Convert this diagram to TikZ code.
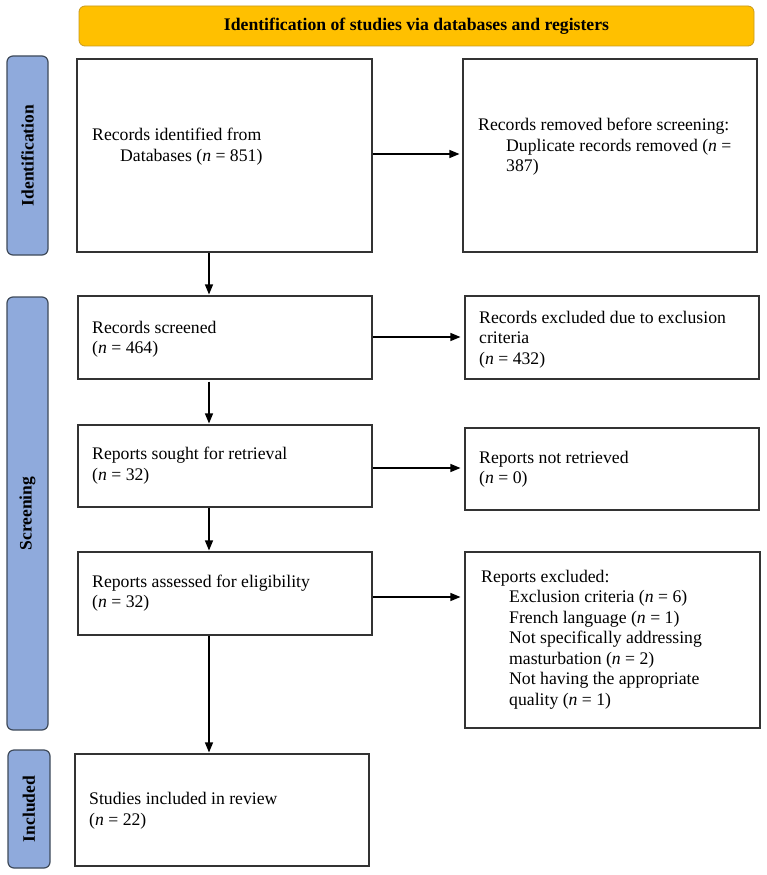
\documentclass[tikz,border=0pt]{standalone}
\usepackage{fontspec}
\setmainfont{Liberation Serif}
\usetikzlibrary{arrows.meta,calc}
\definecolor{hdr}{HTML}{FFC000}
\definecolor{hdrb}{HTML}{C99A1E}
\definecolor{side}{HTML}{8FAADC}
\definecolor{sideb}{HTML}{3F4A5A}
\definecolor{edge}{HTML}{333333}
\begin{document}
\begin{tikzpicture}[x=1pt,y=-1pt,
 box/.style={draw=edge, line width=1.1pt, fill=white, inner sep=0pt},
 sidelab/.style={draw=sideb, line width=1.2pt, fill=side, rounded corners=6pt, inner sep=0pt, font=\bfseries\fontsize{17.5}{20}\selectfont, rotate=90},
 header/.style={draw=hdrb, line width=0.8pt, fill=hdr, rounded corners=6pt, inner sep=0pt, font=\bfseries\fontsize{17.7}{20}\selectfont},
 txt/.style={anchor=west, align=left, inner sep=0pt, font=\fontsize{17.7}{20.5}\selectfont},
 arr/.style={draw=black, line width=1.2pt, -{Triangle[length=10pt,width=8pt]}}]
\useasboundingbox (0,0) rectangle (766,875);
\fill[white] (0,0) rectangle (766,875);

% header
\node[header, minimum width=675pt, minimum height=40pt] (hd) at (416.5,26) {Identification of studies via databases and registers};

% side labels
\node[sidelab, minimum width=199pt, minimum height=41pt] (L1) at (27.5,155.5) {Identification};
\node[sidelab, minimum width=433pt, minimum height=41pt] (L2) at (27.5,513.5) {Screening};
\node[sidelab, minimum width=118pt, minimum height=42pt] (L3) at (29,809) {Included};

% boxes
\node[box, minimum width=295pt, minimum height=193pt] (b1) at (224.5,155.5) {};
\node[box, minimum width=294pt, minimum height=193pt] (b2) at (610,155.5) {};
\node[box, minimum width=294pt, minimum height=83pt] (b3) at (225,337.5) {};
\node[box, minimum width=294pt, minimum height=83pt] (b4) at (612,337.5) {};
\node[box, minimum width=294pt, minimum height=82pt] (b5) at (225,466) {};
\node[box, minimum width=294pt, minimum height=82pt] (b6) at (612,469) {};
\node[box, minimum width=294pt, minimum height=83pt] (b7) at (225,593.5) {};
\node[box, minimum width=295pt, minimum height=176pt] (b8) at (612.5,640) {};
\node[box, minimum width=294pt, minimum height=112pt] (b9) at (222,810) {};

% texts
\node[txt] (t1) at (92,146.5) {Records identified from\\\hspace*{28pt}Databases (\textit{n} = 851)};
\node[txt] (t2) at (478,147) {Records removed before screening:\\\hspace*{28pt}Duplicate records removed (\textit{n} =\\\hspace*{28pt}387)};
\node[txt] (t3) at (92,339) {Records screened\\(\textit{n} = 464)};
\node[txt] (t4) at (479,339.5) {Records excluded due to exclusion\\criteria\\(\textit{n} = 432)};
\node[txt] (t5) at (92,465.5) {Reports sought for retrieval\\(\textit{n} = 32)};
\node[txt] (t6) at (479,469) {Reports not retrieved\\(\textit{n} = 0)};
\node[txt] (t7) at (92,593) {Reports assessed for eligibility\\(\textit{n} = 32)};
\node[txt] (t8) at (481,639.5) {Reports excluded:\\\hspace*{28pt}Exclusion criteria (\textit{n} = 6)\\\hspace*{28pt}French language (\textit{n} = 1)\\\hspace*{28pt}Not specifically addressing\\\hspace*{28pt}masturbation (\textit{n} = 2)\\\hspace*{28pt}Not having the appropriate\\\hspace*{28pt}quality (\textit{n} = 1)};
\node[txt] (t9) at (89,810.5) {Studies included in review\\(\textit{n} = 22)};

% connectors
\coordinate (cx) at (209,0);
\coordinate (h1) at (0,154);
\coordinate (h2) at (0,337);
\coordinate (h3) at (0,468);
\coordinate (h4) at (0,597);
\draw[arr, shorten >=1pt] (b1.south -| cx) -- (b3.north -| cx);
\draw[arr, shorten >=1pt, shorten <=2pt] (b3.south -| cx) -- (b5.north -| cx);
\draw[arr, shorten >=1pt] (b5.south -| cx) -- (b7.north -| cx);
\draw[arr, shorten >=1pt] (b7.south -| cx) -- (b9.north -| cx);
\draw[arr, shorten >=3pt] (b1.east |- h1) -- (b2.west |- h1);
\draw[arr, shorten >=4pt] (b3.east |- h2) -- (b4.west |- h2);
\draw[arr, shorten >=4pt] (b5.east |- h3) -- (b6.west |- h3);
\draw[arr, shorten >=4pt] (b7.east |- h4) -- (b8.west |- h4);
\end{tikzpicture}
\end{document}
